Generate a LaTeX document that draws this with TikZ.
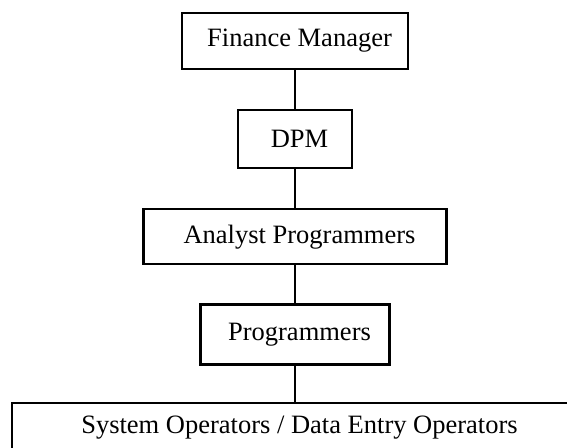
\documentclass[tikz,border=0pt]{standalone}
\usepackage{fontspec}
\setmainfont{Liberation Serif}
\usetikzlibrary{positioning}
\tikzset{
    post/.style={rectangle, draw, line width=2.2pt, fill=white, align=center,
        font=\fontsize{26.5}{32}\selectfont, inner sep=0pt,
        execute at begin node={\hspace*{9pt}}},
    link/.style={draw, line width=2.2pt}
}

\begin{document}
\begin{tikzpicture}[x=1pt,y=1pt]
	\useasboundingbox (0,0) rectangle (567,447);
	\node[post, minimum width=226pt, minimum height=56pt] (fm) at (295,406) {Finance Manager};
	\node[post, minimum width=114pt, minimum height=58pt, below=39pt of fm] (dpm) {DPM};
	\node[post, minimum width=303pt, minimum height=55pt, below=39pt of dpm] (analyst) {Analyst Programmers};
	\node[post, minimum width=189pt, minimum height=60pt, below=38pt of analyst] (prog) {Programmers};
	\node[post, minimum width=566pt, minimum height=60pt, text depth=16pt, below=36pt of prog] (ops) {System Operators / Data Entry Operators};
	% reporting lines
	\draw[link] (fm) -- (dpm);
	\draw[link] (dpm) -- (analyst);
	\draw[link] (analyst) -- (prog);
	\draw[link] (prog) -- (ops);
\end{tikzpicture}
\end{document}
